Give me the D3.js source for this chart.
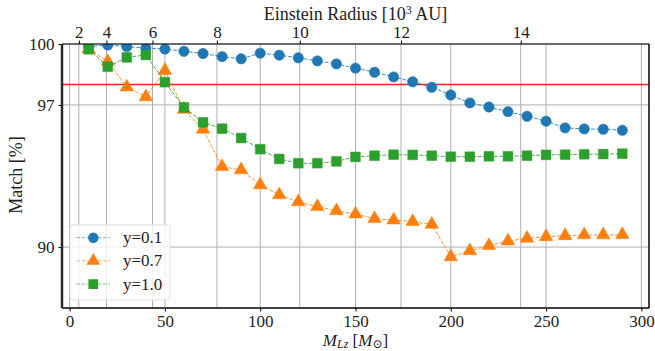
<!DOCTYPE html>
<html>
<head>
<meta charset="utf-8">
<script src="https://cdn.jsdelivr.net/npm/d3@7"></script>
<style>
  body { margin: 0; background: #fff; }
  text { font-family: "Liberation Serif", "DejaVu Serif", serif; fill: #222; }
</style>
</head>
<body>
<svg id="chart" width="655" height="351"></svg>
<script>
// lens mass (solar masses)
const masses = [10, 20, 30, 40, 50, 60, 70, 80, 90, 100, 110, 120, 130, 140, 150,
  160, 170, 180, 190, 200, 210, 220, 230, 240, 250, 260, 270, 280, 290];

// match in percent, per source position y
const matchY01 = [99.88, 99.95, 99.87, 99.8, 99.75, 99.64, 99.53, 99.38, 99.27, 99.55,
  99.45, 99.32, 99.17, 99.02, 98.81, 98.61, 98.38, 98.14, 97.87, 97.49,
  97.1, 96.9, 96.67, 96.44, 96.2, 95.87, 95.82, 95.8, 95.75];
const matchY07 = [99.75, 99.13, 97.88, 97.4, 98.69, 96.78, 95.8, 93.96, 93.8, 93.06,
  92.57, 92.23, 91.99, 91.79, 91.63, 91.4, 91.33, 91.25, 91.12, 89.52,
  89.82, 90.07, 90.3, 90.43, 90.51, 90.56, 90.6, 90.6, 90.61];
const matchY10 = [99.74, 98.88, 99.34, 99.46, 98.12, 96.88, 96.14, 95.83, 95.37, 94.82,
  94.34, 94.13, 94.13, 94.22, 94.44, 94.5, 94.55, 94.54, 94.5, 94.45,
  94.45, 94.47, 94.47, 94.5, 94.54, 94.55, 94.57, 94.58, 94.6];

const seriesNames = ["y=0.1", "y=0.7", "y=1.0"];
const xTicks = [0, 50, 100, 150, 200, 250, 300];
const yTicks = [90, 97, 100];
const topTicks = [2, 4, 6, 8, 10, 12, 14];   // Einstein radius, 10^3 AU
const threshold = 98;
const reK = 0.91;                            // R_E = reK * sqrt(M)

const margin = { top: 44, right: 6, bottom: 43, left: 62 };
const width = 655 - margin.left - margin.right;
const height = 351 - margin.top - margin.bottom;

const svg = d3.select("#chart")
  .append("g")
  .attr("transform", "translate(" + margin.left + "," + margin.top + ")");

svg.append("clipPath").attr("id", "plot-clip")
  .append("rect").attr("width", width).attr("height", height);

const x = d3.scaleLinear().domain([-4, 304]).range([0, width]);
const y = d3.scaleLinear().domain([87, 100]).range([height, 0]);
const xTop = d3.scalePow().exponent(2)
  .domain([0, reK * Math.sqrt(304)])
  .range([x(0), x(304)]);

// grid
const grid = svg.append("g").attr("stroke", "#b0b0b0").attr("stroke-width", 1);
grid.selectAll("line.gx")
  .data(xTicks)
  .enter().append("line")
  .attr("x1", d => x(d)).attr("x2", d => x(d))
  .attr("y1", 0).attr("y2", height);
grid.selectAll("line.gt")
  .data(topTicks)
  .enter().append("line")
  .attr("x1", d => xTop(d)).attr("x2", d => xTop(d))
  .attr("y1", 0).attr("y2", height);
grid.selectAll("line.gy")
  .data(yTicks)
  .enter().append("line")
  .attr("x1", 0).attr("x2", width)
  .attr("y1", d => y(d)).attr("y2", d => y(d));

// threshold line
svg.append("line")
  .attr("x1", 0).attr("x2", width)
  .attr("y1", y(threshold)).attr("y2", y(threshold))
  .attr("stroke", "#ff2020")
  .attr("stroke-width", 1.5);

// axes
const fontSize = "17px";
const labelSize = "18px";
const bottomAxis = svg.append("g")
  .attr("transform", "translate(0," + height + ")")
  .call(d3.axisBottom(x).tickValues(xTicks).tickSize(3.5).tickPadding(3));
const leftAxis = svg.append("g")
  .call(d3.axisLeft(y).tickValues(yTicks).tickSize(3.5).tickPadding(4));
const topAxis = svg.append("g")
  .call(d3.axisTop(xTop).tickValues(topTicks).tickSize(3.5).tickPadding(3));

[bottomAxis, leftAxis, topAxis].forEach(a => {
  a.select(".domain").remove();
  a.selectAll("text").style("font-size", fontSize).attr("fill", "#222");
  a.selectAll("line").attr("stroke", "#000");
});

// series
const series = [
  { name: seriesNames[0], values: matchY01, color: "#1f77b4", shape: d3.symbolCircle, size: 85 },
  { name: seriesNames[1], values: matchY07, color: "#ff7f0e", shape: d3.symbolTriangle, size: 80 },
  { name: seriesNames[2], values: matchY10, color: "#2ca02c", shape: d3.symbolSquare, size: 95 }
];

const line = d3.line()
  .x(d => x(d[0]))
  .y(d => y(d[1]));

series.forEach(s => {
  const pts = masses.map((m, i) => [m, s.values[i]]);
  const g = svg.append("g").attr("clip-path", "url(#plot-clip)");
  g.append("path")
    .datum(pts)
    .attr("d", line)
    .attr("fill", "none")
    .attr("stroke", s.color)
    .attr("stroke-width", 1)
    .attr("stroke-dasharray", "3.7,1.6")
    .attr("opacity", 0.85);
  g.selectAll("path.mark")
    .data(pts)
    .enter().append("path")
    .attr("class", "mark")
    .attr("transform", d => "translate(" + x(d[0]) + "," + y(d[1]) + ")")
    .attr("d", d3.symbol().type(s.shape).size(s.size))
    .attr("fill", s.color)
    .attr("stroke", s.color)
    .attr("stroke-opacity", 0.5)
    .attr("stroke-width", 1);
});

// spines
svg.append("line").attr("x1", 0).attr("x2", width).attr("y1", 0).attr("y2", 0)
  .attr("stroke", "#000").attr("stroke-width", 1.2);
svg.append("line").attr("x1", width).attr("x2", width).attr("y1", 0).attr("y2", height)
  .attr("stroke", "#000").attr("stroke-width", 1.5);
svg.append("line").attr("x1", 0).attr("x2", width).attr("y1", height).attr("y2", height)
  .attr("stroke", "#000").attr("stroke-width", 1.6);
svg.append("line").attr("x1", 0).attr("x2", 0).attr("y1", 0).attr("y2", height)
  .attr("stroke", "#2a2a2a").attr("stroke-width", 2.5);

// legend
const legend = svg.append("g").attr("transform", "translate(8,181)");
legend.append("rect")
  .attr("width", 100).attr("height", 75)
  .attr("rx", 3)
  .attr("fill", "#fff").attr("fill-opacity", 0.8)
  .attr("stroke", "#ddd");
series.forEach((s, i) => {
  const row = legend.append("g").attr("transform", "translate(0," + (12.7 + i * 23.2) + ")");
  row.append("line")
    .attr("x1", 6.5).attr("x2", 40)
    .attr("stroke", s.color).attr("stroke-width", 1)
    .attr("stroke-dasharray", "3.7,1.6").attr("opacity", 0.6);
  row.append("path")
    .attr("transform", "translate(23.3,0)")
    .attr("d", d3.symbol().type(s.shape).size(s.size))
    .attr("fill", s.color);
  row.append("text")
    .attr("x", 53).attr("y", 5.5)
    .style("font-size", fontSize)
    .text(s.name);
});

// labels
const topLabel = svg.append("text")
  .attr("x", width / 2).attr("y", -24)
  .attr("text-anchor", "middle")
  .style("font-size", labelSize);
topLabel.append("tspan").text("Einstein Radius [10");
topLabel.append("tspan").attr("dy", -6).style("font-size", "12px").text("3");
topLabel.append("tspan").attr("dy", 6).text(" AU]");

const xLabel = svg.append("text")
  .attr("x", width / 2).attr("y", height + 37.5)
  .attr("text-anchor", "middle")
  .style("font-size", fontSize);
xLabel.append("tspan").style("font-style", "italic").text("M");
xLabel.append("tspan").attr("dy", 2.5).style("font-style", "italic").style("font-size", "12px").text("Lz");
xLabel.append("tspan").attr("dy", -2.5).text(" [");
xLabel.append("tspan").style("font-style", "italic").text("M");
xLabel.append("tspan").attr("dy", 2.5).style("font-size", "12px").text("\u2299");
xLabel.append("tspan").attr("dy", -2.5).text("]");

svg.append("text")
  .attr("transform", "translate(-40," + (y(93.55)) + ") rotate(-90)")
  .attr("text-anchor", "middle")
  .style("font-size", labelSize)
  .text("Match [%]");
</script>
</body>
</html>
